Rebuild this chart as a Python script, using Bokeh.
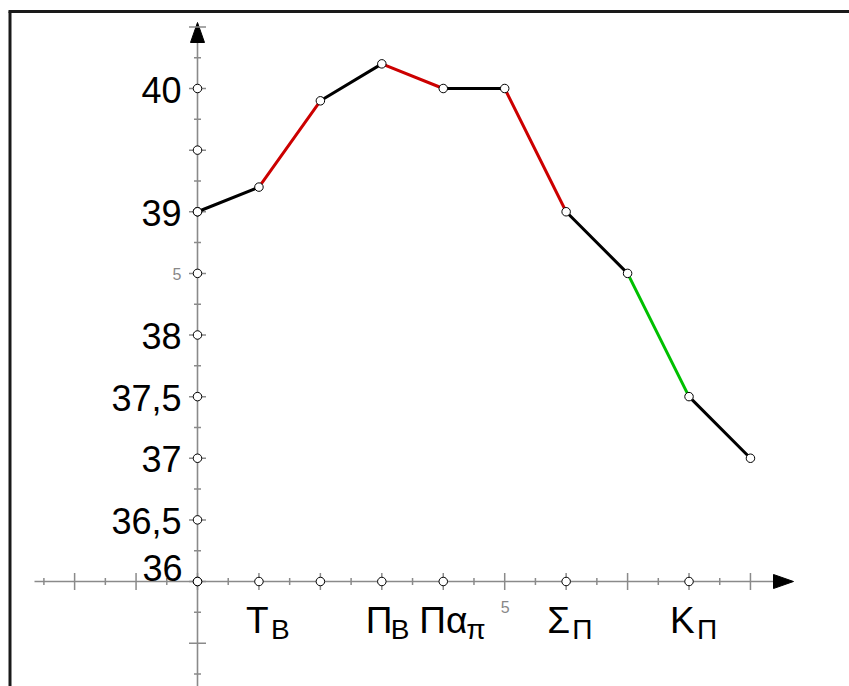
import numpy as np
from bokeh.plotting import figure
from bokeh.models import Range1d
from bokeh.core.properties import value
from bokeh.embed import file_html
from bokeh.resources import INLINE

# ---------------- data ----------------
x_pos = [0, 1, 2, 3, 4, 5, 6, 7, 8, 9]
temps = [39.0, 39.2, 39.9, 40.2, 40.0, 40.0, 39.0, 38.5, 37.5, 37.0]
seg_colors = ["black", "#cc0000", "black", "#cc0000", "black",
              "#cc0000", "black", "#00c000", "black"]

x_label_pos = [1, 3, 4, 6, 8]
x_label_main = ["Τ", "Π", "Πα", "Σ", "Κ"]
x_label_sub = ["Β", "Β", "π", "Π", "Π"]
x_small_label_pos = [5]
x_small_label_text = ["5"]
x_axis_points = [0, 1, 2, 3, 4, 6, 8]

y_label_vals = [36.5, 37.0, 37.5, 38.0, 39.0, 40.0]
y_label_text = ["36,5", "37", "37,5", "38", "39", "40"]
y_origin_val = [36.0]
y_origin_text = ["36"]
y_small_label_vals = [38.5]
y_small_label_text = ["5"]
y_axis_points = [36.0, 36.5, 37.0, 37.5, 38.0, 38.5, 39.0, 39.5, 40.0]

# ---------------- layout (pixels) ----------------
W, H = 849, 686
OX, OY = 197, 581          # canvas pixel of the axes crossing
SX, SY = 61.44, 123.25     # pixels per x unit / per y unit
Y0 = 36.0                  # y value where the x axis sits

def dx(px):
    return px / SX

def dy(px):
    return px / SY

x_range = Range1d(-OX / SX, (W - OX) / SX)
y_range = Range1d(Y0 - (H - OY) / SY, Y0 + OY / SY)

p = figure(width=W, height=H, x_range=x_range, y_range=y_range,
           output_backend="svg", toolbar_location=None,
           x_axis_type=None, y_axis_type=None,
           min_border=0, outline_line_color=None,
           background_fill_color="white", border_fill_color="white")

AX_COL = "#8a8a8a"

# frame lines (top and left)
frame_x = x_range.start + dx(9.5)
frame_y = y_range.end - dy(11)
p.segment(x0=[frame_x - dx(1.5), frame_x], y0=[frame_y, frame_y],
          x1=[x_range.end + 1, frame_x], y1=[frame_y, y_range.start - 1],
          line_color="#1a1a1a", line_width=3)

# axes
x_axis_left = x_range.start + dx(34)
x_arrow_base = x_range.start + dx(773)
x_arrow_tip = x_range.start + dx(793)
y_arrow_base = y_range.end - dy(42)
y_arrow_tip = y_range.end - dy(22)

p.line([x_axis_left, x_arrow_base], [Y0, Y0], line_color=AX_COL, line_width=1.6)
p.line([0, 0], [y_range.start - 1, y_arrow_base], line_color=AX_COL, line_width=1.6)

p.patch([x_arrow_base, x_arrow_tip, x_arrow_base], [Y0 + dy(7), Y0, Y0 - dy(7)],
        fill_color="black", line_color="black", line_width=1)
p.patch([-dx(7), 0, dx(7)], [y_arrow_base, y_arrow_tip, y_arrow_base],
        fill_color="black", line_color="black", line_width=1)

# ticks
xt = np.arange(-2.5, 9.01, 0.5)
xt_long = [t for t in xt if abs(t - round(t)) < 1e-9]
xt_short = [t for t in xt if abs(t - round(t)) > 1e-9]
p.scatter(xt_long, [Y0] * len(xt_long), marker="dash", size=17, angle=np.pi / 2,
          line_color=AX_COL, line_width=1.5)
p.scatter(xt_short, [Y0] * len(xt_short), marker="dash", size=7, angle=np.pi / 2,
          line_color=AX_COL, line_width=1.5)

yt = np.arange(35.25, 40.51, 0.25)
yt_long = [t for t in yt if abs(t * 2 - round(t * 2)) < 1e-9]
yt_short = [t for t in yt if abs(t * 2 - round(t * 2)) > 1e-9]
p.scatter([0] * len(yt_long), yt_long, marker="dash", size=17,
          line_color=AX_COL, line_width=1.5)
p.scatter([0] * len(yt_short), yt_short, marker="dash", size=7,
          line_color=AX_COL, line_width=1.5)

# data segments
p.segment(x0=x_pos[:-1], y0=temps[:-1], x1=x_pos[1:], y1=temps[1:],
          line_color=seg_colors, line_width=3, line_cap="round")

# points on axes and data points
p.scatter(x_axis_points, [Y0] * len(x_axis_points), marker="circle", size=8.5,
          fill_color="white", line_color="black", line_width=1)
p.scatter([0] * len(y_axis_points), y_axis_points, marker="circle", size=8.5,
          fill_color="white", line_color="black", line_width=1)
p.scatter(x_pos, temps, marker="circle", size=8.5,
          fill_color="white", line_color="black", line_width=1)

FONT = value("Liberation Sans")

# y labels
p.text(x=[0] * len(y_label_vals), y=y_label_vals, text=y_label_text,
       text_font=FONT, text_font_size="36px", text_color="black",
       text_align="right", text_baseline="middle", x_offset=-16, y_offset=1)
p.text(x=[0], y=y_origin_val, text=y_origin_text,
       text_font=FONT, text_font_size="36px", text_color="black",
       text_align="right", text_baseline="middle", x_offset=-15, y_offset=-14)
p.text(x=[0] * len(y_small_label_vals), y=y_small_label_vals, text=y_small_label_text,
       text_font=FONT, text_font_size="16px", text_color="#888888",
       text_align="right", text_baseline="middle", x_offset=-16, y_offset=1)

# x labels: main letters and subscripts
main_off = [-13, -16, -24, -19, -19]
sub_off = [12, 9, 23, 6, 8]
p.text(x=x_label_pos, y=[Y0] * len(x_label_pos), text=x_label_main,
       text_font=FONT, text_font_size="37px", text_color="black",
       text_align="left", text_baseline="alphabetic",
       x_offset=main_off, y_offset=39)
p.text(x=x_label_pos, y=[Y0] * len(x_label_pos), text=x_label_sub,
       text_font=FONT, text_font_size="28px", text_color="black",
       text_align="left", text_baseline="alphabetic",
       x_offset=sub_off, y_offset=48)
p.text(x=x_small_label_pos, y=[Y0] * len(x_small_label_pos), text=x_small_label_text,
       text_font=FONT, text_font_size="16px", text_color="#888888",
       text_align="left", text_baseline="middle", x_offset=-4, y_offset=25)

open("out.html", "w").write(file_html(p, INLINE))
